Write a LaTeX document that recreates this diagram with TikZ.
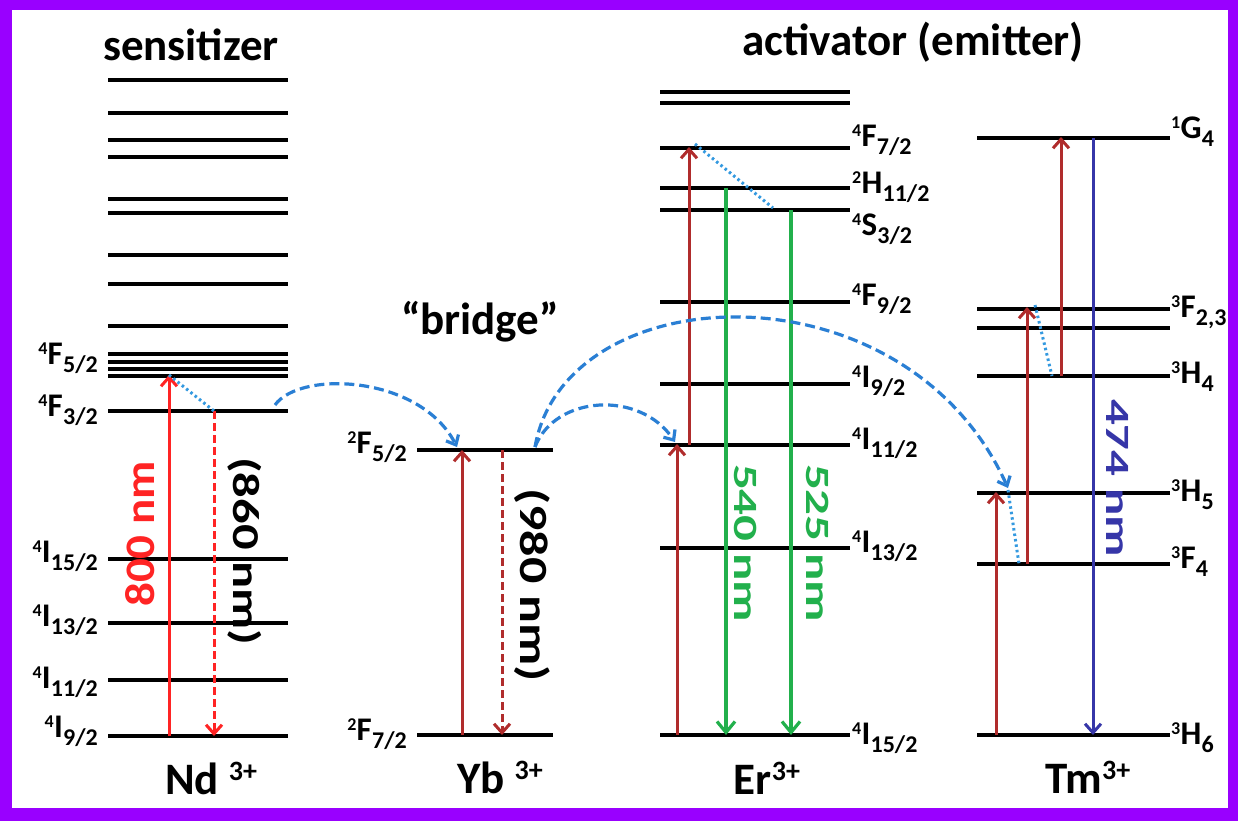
\documentclass[tikz,border=0pt]{standalone}
\usepackage{fontspec}
\setmainfont{Carlito}
\usepackage{graphicx}
\usetikzlibrary{arrows.meta}
\definecolor{framecol}{HTML}{9900FF}
\definecolor{ndred}{HTML}{FF2424}
\definecolor{dred}{HTML}{B02C2C}
\definecolor{egreen}{HTML}{22B04C}
\definecolor{tblue}{HTML}{3636A8}
\definecolor{dblue}{HTML}{2A7FD4}
\definecolor{pblue}{HTML}{3399E0}
\newcommand{\lv}[3]{{\fontsize{18}{18}\selectfont\raisebox{10pt}{#1}}\kern0.2pt{\fontsize{33}{33}\selectfont #2}\kern0.3pt{\fontsize{24}{24}\selectfont\raisebox{-8pt}{#3}}}
\newcommand{\ionlbl}[3]{{\fontsize{45}{45}\selectfont #1}\hspace{#3}{\fontsize{28}{28}\selectfont\raisebox{14pt}{#2}}}
\newcommand{\rlbl}[3]{\scalebox{#2}[1]{\fontsize{#1}{#1}\selectfont #3}}
\begin{document}
\begin{tikzpicture}[x=1pt,y=-1pt,
  font=\bfseries,
  lvl/.style={line width=4pt},
  lvlthin/.style={line width=3.5pt},
  lab/.style={inner sep=0pt, text=black},
  arr/.style={-{Straight Barb[length=9pt,width=16pt]}, line width=3pt},
  garr/.style={-{Straight Barb[length=11pt,width=18pt]}, line width=3.2pt, egreen},
  ndarr/.style={arr, ndred},
  redarr/.style={arr, dred},
  reddash/.style={dash pattern=on 8pt off 4pt},
  transfer/.style={dblue, line width=3.2pt, dash pattern=on 10pt off 5pt, -{Straight Barb[length=8pt,width=14pt]}},
  relax/.style={pblue, line width=3pt, dash pattern=on 2.5pt off 3pt},
  title/.style={inner sep=0pt, font=\bfseries\fontsize{45}{50}\selectfont}
]
\useasboundingbox (0,0) rectangle (1238,821);
\fill[framecol] (0,0) rectangle (1238,821);
\fill[white] (12,10) rectangle (1228,808);

% ---------------- titles
\node[title] (tsens) at (191,45) {sensitizer};
\node[title] (tact) at (913,42) {activator (emitter)};
\node[title] (tbridge) at (480,322) {“bridge”};

% ---------------- Nd3+
\foreach \y in {80,113,140,157,199,213,255,284,326,354,362,369}
  \draw[lvlthin] (108,\y) -- (288,\y);
\draw[lvlthin] (108,376) coordinate (ndF52l) -- (288,376) coordinate (ndF52r);
\draw[lvl] (108,411) coordinate (ndF32l) -- (288,411) coordinate (ndF32r);
\draw[lvl] (108,559) -- (288,559);
\draw[lvl] (108,623) -- (288,623);
\draw[lvl] (108,680) -- (288,680);
\draw[lvl] (108,736) coordinate (ndI92l) -- (288,736) coordinate (ndI92r);
\node[lab, anchor=east] (lndF52) at (98,358) {\lv{4}{F}{5/2}};
\node[lab, anchor=east] (lndF32) at (98,410) {\lv{4}{F}{3/2}};
\node[lab, anchor=east] (lndI152) at (98,556) {\lv{4}{I}{15/2}};
\node[lab, anchor=east] (lndI132) at (98,620) {\lv{4}{I}{13/2}};
\node[lab, anchor=east] (lndI112) at (98,682) {\lv{4}{I}{11/2}};
\node[lab, anchor=east] (lndI92) at (98,731) {\lv{4}{I}{9/2}};
\coordinate (ndxa) at (169,0);
\coordinate (ndxb) at (214,0);
\draw[ndarr] (ndxa |- ndI92l) -- ([yshift=1pt]ndxa |- ndF52l) coordinate (ndtop);
\draw[ndarr, reddash] (ndxb |- ndF32l) coordinate (ndmid) -- (ndxb |- ndI92l);
\draw[relax] (ndtop) -- (ndmid);
\node[inner sep=0pt, text=ndred, rotate=90] (l800) at (140,534) {\rlbl{42}{1.12}{800 nm}};
\node[inner sep=0pt, rotate=-90] (l860) at (245,551) {\rlbl{38}{1.33}{(860 nm)}};
\node[inner sep=0pt, anchor=base] (ndion) at (211,794) {\ionlbl{Nd}{3+}{10pt}};

% ---------------- Yb3+
\draw[lvl] (417,450) coordinate (ybF52l) -- (553,450) coordinate (ybF52r);
\draw[lvl] (417,735) coordinate (ybF72l) -- (553,735) coordinate (ybF72r);
\node[lab, anchor=east] (lybF52) at (407,447) {\lv{2}{F}{5/2}};
\node[lab, anchor=east] (lybF72) at (407,734) {\lv{2}{F}{7/2}};
\coordinate (ybxa) at (462,0);
\coordinate (ybxb) at (502,0);
\draw[redarr] (ybxa |- ybF72l) -- (ybxa |- ybF52l);
\draw[redarr, reddash] (ybxb |- ybF52l) -- (ybxb |- ybF72l);
\node[inner sep=0pt, rotate=-90] (l980) at (532,585) {\rlbl{40}{1.3}{(980 nm)}};
\node[inner sep=0pt, anchor=base] (ybion) at (500,793) {\ionlbl{Yb}{3+}{10pt}};

% ---------------- Er3+
\foreach \y in {92,103}
  \draw[lvl] (660,\y) -- (850,\y);
\draw[lvl] (660,148) coordinate (erF72) -- (850,148);
\draw[lvl] (660,188) coordinate (erH112) -- (850,188);
\draw[lvl] (660,210) coordinate (erS32) -- (850,210);
\draw[lvl] (660,302) -- (850,302);
\draw[lvl] (660,384) -- (850,384);
\draw[lvl] (660,445) coordinate (erI112) -- (850,445);
\draw[lvl] (660,548) -- (850,548);
\draw[lvl] (660,735) coordinate (erI152) -- (850,735);
\node[lab, anchor=west] (lerF72) at (852,140) {\lv{4}{F}{7/2}};
\node[lab, anchor=west] (lerH112) at (852,187) {\lv{2}{H}{11/2}};
\node[lab, anchor=west] (lerS32) at (852,229) {\lv{4}{S}{3/2}};
\node[lab, anchor=west] (lerF92) at (852,299) {\lv{4}{F}{9/2}};
\node[lab, anchor=west] (lerI92) at (852,381) {\lv{4}{I}{9/2}};
\node[lab, anchor=west] (lerI112) at (852,443) {\lv{4}{I}{11/2}};
\node[lab, anchor=west] (lerI132) at (852,546) {\lv{4}{I}{13/2}};
\node[lab, anchor=west] (lerI152) at (852,738) {\lv{4}{I}{15/2}};
\coordinate (erxa) at (677,0);
\coordinate (erxb) at (689,0);
\coordinate (erxc) at (726,0);
\coordinate (erxd) at (791,0);
\draw[redarr] (erxa |- erI152) -- ([yshift=1pt]erxa |- erI112);
\draw[redarr] (erxb |- erI112) -- ([yshift=1pt]erxb |- erF72) coordinate (ertop);
\draw[garr] (erxc |- erH112) -- (erxc |- erI152);
\draw[garr] (erxd |- erS32) -- (erxd |- erI152);
\coordinate (erdot) at (773,208);
\draw[relax] ([xshift=6pt,yshift=3pt]ertop) -- (erdot);
\node[inner sep=0pt, text=egreen, rotate=-90] (l540) at (746,543) {\rlbl{34}{1.5}{540 nm}};
\node[inner sep=0pt, text=egreen, rotate=-90] (l525) at (818,543) {\rlbl{34}{1.5}{525 nm}};
\node[inner sep=0pt, anchor=base] (erion) at (767,794) {\ionlbl{Er}{3+}{0pt}};

% ---------------- Tm3+
\draw[lvl] (977,138) coordinate (tmG4) -- (1170,138);
\draw[lvl] (977,309) coordinate (tmF2) -- (1170,309);
\draw[lvl] (977,328) -- (1170,328);
\draw[lvl] (977,376) coordinate (tmH4) -- (1170,376);
\draw[lvl] (977,493) coordinate (tmH5) -- (1170,493);
\draw[lvl] (977,564) coordinate (tmF4) -- (1170,564);
\draw[lvl] (977,735) coordinate (tmH6) -- (1170,735);
\node[lab, anchor=west] (ltmG4) at (1171,132) {\lv{1}{G}{4}};
\node[lab, anchor=west] (ltmF23) at (1171,312) {\lv{3}{F}{2,3}};
\node[lab, anchor=west] (ltmH4) at (1171,377) {\lv{3}{H}{4}};
\node[lab, anchor=west] (ltmH5) at (1171,495) {\lv{3}{H}{5}};
\node[lab, anchor=west] (ltmF4) at (1171,562) {\lv{3}{F}{4}};
\node[lab, anchor=west] (ltmH6) at (1171,738) {\lv{3}{H}{6}};
\coordinate (tmxa) at (996,0);
\coordinate (tmxb) at (1027,0);
\coordinate (tmxc) at (1061,0);
\coordinate (tmxd) at (1093,0);
\draw[redarr] (tmxa |- tmH6) -- ([yshift=1pt]tmxa |- tmH5);
\draw[redarr] (tmxb |- tmF4) -- ([yshift=2pt]tmxb |- tmF2);
\draw[redarr] (tmxc |- tmH4) -- ([yshift=1pt]tmxc |- tmG4);
\draw[arr, tblue] (tmxd |- tmG4) -- (tmxd |- tmH6);
\coordinate (tmd1a) at (1035,305);
\coordinate (tmd1b) at (1052,376);
\coordinate (tmd2a) at (1008,490);
\coordinate (tmd2b) at (1019,564);
\draw[relax] (tmd1a) -- (tmd1b);
\draw[relax] (tmd2a) -- (tmd2b);
\node[inner sep=0pt, text=tblue, rotate=-90] (l474) at (1118,478) {\rlbl{34}{1.5}{474 nm}};
\node[inner sep=0pt, anchor=base] (tmion) at (1088,793) {\ionlbl{Tm}{3+}{0pt}};

% ---------------- energy transfer arcs
\coordinate (ndsrc) at (275,405);
\coordinate (ybdst) at (457,447);
\coordinate (ybsrc) at (535,447);
\coordinate (erdst) at (675,442);
\coordinate (tmdst) at (1008,488);
\draw[transfer] (ndsrc) .. controls (300,370) and (420,375) .. (ybdst);
\draw[transfer] (ybsrc) .. controls (555,395) and (640,390) .. (erdst);
\draw[transfer] (ybsrc) .. controls (565,275) and (905,260) .. (tmdst);
\end{tikzpicture}
\end{document}
